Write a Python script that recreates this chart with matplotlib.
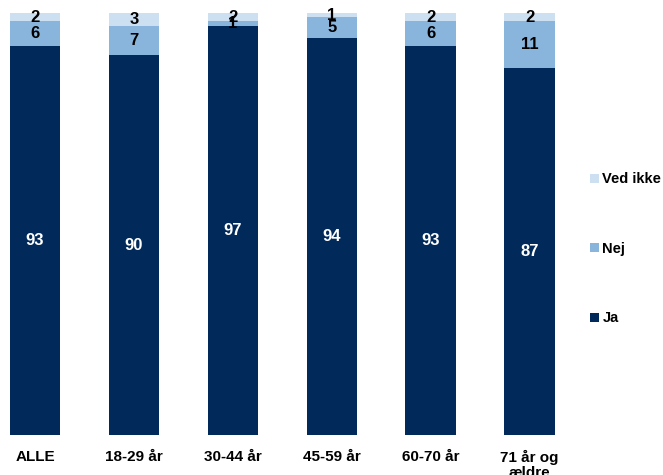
import matplotlib.pyplot as plt
import numpy as np

categories = ["ALLE", "18-29 år", "30-44 år", "45-59 år", "60-70 år", "71 år og\nældre"]
ja = [93, 90, 97, 94, 93, 87]
nej = [6, 7, 1, 5, 6, 11]
ved_ikke = [2, 3, 2, 1, 2, 2]

c_ja = "#012a5b"
c_nej = "#89b5dc"
c_vi = "#cde0f2"

fig = plt.figure(figsize=(6.63, 4.75), dpi=100)
ax = fig.add_axes([0.0, 1 - 435 / 475, 0.85, 422 / 475])

x = np.arange(len(categories))
w = 0.51
ja = np.array(ja, dtype=float)
nej = np.array(nej, dtype=float)
ved_ikke = np.array(ved_ikke, dtype=float)
tot = ja + nej + ved_ikke
# stacks are drawn as shares of 100%
p_ja = ja / tot * 100
p_nej = nej / tot * 100
p_vi = ved_ikke / tot * 100

b1 = ax.bar(x, p_ja, w, color=c_ja, label="Ja")
b2 = ax.bar(x, p_nej, w, bottom=p_ja, color=c_nej, label="Nej")
b3 = ax.bar(x, p_vi, w, bottom=p_ja + p_nej, color=c_vi, label="Ved ikke")

narrow = ["Liberation Sans Narrow", "Liberation Sans", "DejaVu Sans"]
numfont = dict(fontsize=12, fontweight="bold", family=["Liberation Sans", "DejaVu Sans"])
for i in range(len(categories)):
    ax.text(x[i], p_ja[i] / 2, "%d" % ja[i], ha="center", va="center", color="white", **numfont)
    ax.text(x[i], p_ja[i] + p_nej[i] / 2, "%d" % nej[i], ha="center", va="center", color="black", **numfont)
    ax.text(x[i], p_ja[i] + p_nej[i] + p_vi[i] / 2, "%d" % ved_ikke[i], ha="center", va="center",
            color="black", **numfont)

ax.set_xlim(-35 / 98.8, -35 / 98.8 + 563 / 98.8)
ax.set_ylim(0, 100)
ax.set_yticks([])
ax.set_xticks(x)
ax.set_xticklabels(categories, fontsize=11, fontweight="bold", family=narrow,
                   va="top", linespacing=1.05)
ax.tick_params(axis="x", length=0, pad=11)
for s in ax.spines.values():
    s.set_visible(False)

leg = fig.legend(handles=[b3, b2, b1], labels=["Ved ikke", "Nej", "Ja"],
                 loc="center left", bbox_to_anchor=(0.879, 0.476), frameon=False,
                 handlelength=0.6, handleheight=0.6, handletextpad=0.25, borderpad=0,
                 labelspacing=3.8, prop=dict(size=10.5, weight="bold", family=["Liberation Sans", "DejaVu Sans"]))

fig.savefig("out.png", dpi=100)
